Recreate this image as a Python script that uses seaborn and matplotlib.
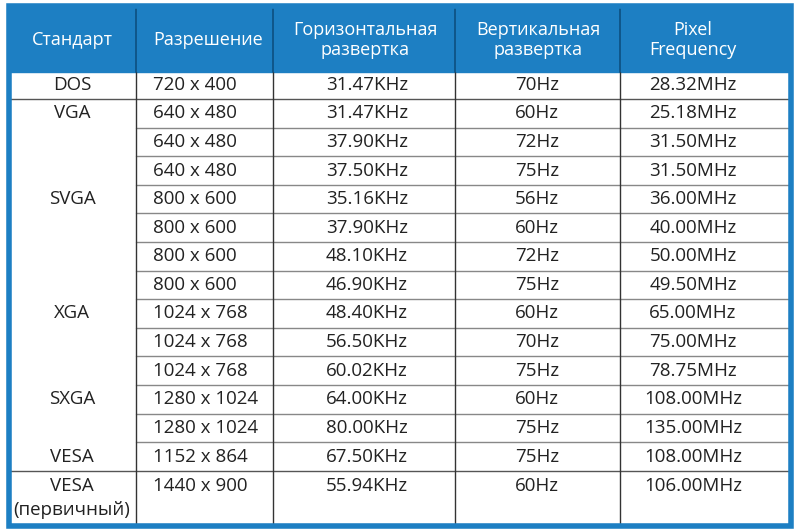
import matplotlib
matplotlib.use("Agg")
import matplotlib.pyplot as plt
import seaborn as sns
from matplotlib.patches import Rectangle

sns.set_theme(style="white", font="Open Sans")

headers = ["Стандарт", "Разрешение", "Горизонтальная\nразвертка", "Вертикальная\nразвертка", "Pixel\nFrequency"]
standards = ["DOS", "VGA", "", "", "SVGA", "", "", "", "XGA", "", "", "SXGA", "", "VESA", "VESA\n(первичный)"]
resolutions = ["720 x 400", "640 x 480", "640 x 480", "640 x 480", "800 x 600", "800 x 600", "800 x 600",
               "800 x 600", "1024 x 768", "1024 x 768", "1024 x 768", "1280 x 1024", "1280 x 1024",
               "1152 x 864", "1440 x 900"]
hfreq = ["31.47KHz", "31.47KHz", "37.90KHz", "37.50KHz", "35.16KHz", "37.90KHz", "48.10KHz", "46.90KHz",
         "48.40KHz", "56.50KHz", "60.02KHz", "64.00KHz", "80.00KHz", "67.50KHz", "55.94KHz"]
vfreq = ["70Hz", "60Hz", "72Hz", "75Hz", "56Hz", "60Hz", "72Hz", "75Hz", "60Hz", "70Hz", "75Hz",
         "60Hz", "75Hz", "75Hz", "60Hz"]
pixfreq = ["28.32MHz", "25.18MHz", "31.50MHz", "31.50MHz", "36.00MHz", "40.00MHz", "50.00MHz", "49.50MHz",
           "65.00MHz", "75.00MHz", "78.75MHz", "108.00MHz", "135.00MHz", "108.00MHz", "106.00MHz"]

BLUE = "#1d7fc3"
fig = plt.figure(figsize=(8, 5.32), dpi=100)
ax = fig.add_axes([0, 0, 1, 1])
ax.set_xlim(0, 800)
ax.set_ylim(532, 0)
ax.axis("off")

L, R, T, B = 9, 791, 6, 526
vx = [L, 136, 273, 455, 620, R]
ax.add_patch(Rectangle((L, T), R - L, 66, color=BLUE, zorder=1))
ax.add_patch(Rectangle((L, T), R - L, B - T, fill=False, ec=BLUE, lw=4, zorder=5))

header_bottom = 72
dos_bottom = 99
rh = 28.6
tops = [header_bottom, dos_bottom] + [dos_bottom + i * rh for i in range(1, 14)]
bots = tops[1:] + [B]
for i in range(1, 14):
    y = dos_bottom + i * rh
    if i == 13:
        ax.plot([L, R], [y, y], color="#555555", lw=1, zorder=3)
    else:
        ax.plot([vx[1], R], [y, y], color="#888888", lw=1, zorder=3)
ax.plot([L, R], [dos_bottom, dos_bottom], color="#555555", lw=1, zorder=3)
for x in vx[1:-1]:
    ax.plot([x, x], [header_bottom, B], color="#333333", lw=1, zorder=3)
    ax.plot([x, x], [T, header_bottom], color="#0d4f80", lw=1.2, zorder=3)

hx = [72, 208, 365, 538, 693]
for x, h in zip(hx, headers):
    ax.text(x, 40, h, color="white", fontsize=13, ha="center", va="center", linespacing=1.15, zorder=4)

fs = 13.5
for i in range(15):
    top, bot = tops[i], bots[i]
    yc = (top + bot) / 2 if i < 14 else top + 15
    if standards[i]:
        if i == 14:
            ax.text(72, top + 15, "VESA", fontsize=fs, ha="center", va="center", color="#222222")
            ax.text(72, top + 39, "(первичный)", fontsize=fs, ha="center", va="center", color="#222222")
        else:
            ax.text(72, yc, standards[i], fontsize=fs, ha="center", va="center", color="#222222")
    ax.text(153, yc, resolutions[i], fontsize=fs, ha="left", va="center", color="#222222")
    ax.text(367, yc, hfreq[i], fontsize=fs, ha="center", va="center", color="#222222")
    ax.text(537, yc, vfreq[i], fontsize=fs, ha="center", va="center", color="#222222")
    ax.text(693, yc, pixfreq[i], fontsize=fs, ha="center", va="center", color="#222222")

fig.savefig("out.png", dpi=100, facecolor="white")
